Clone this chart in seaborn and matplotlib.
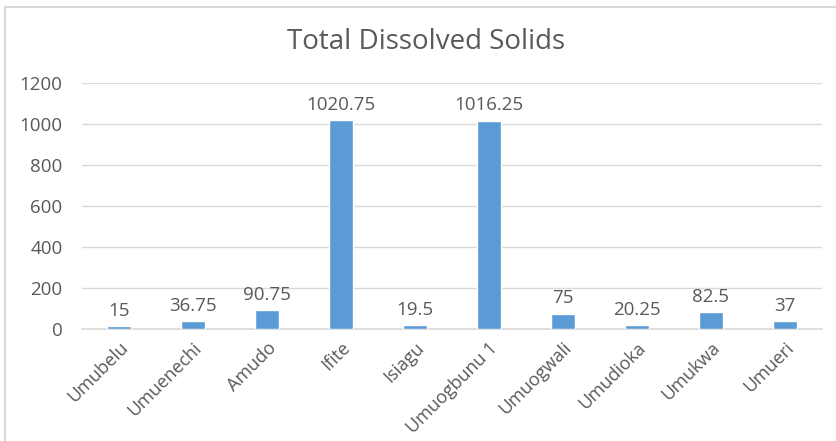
import matplotlib
matplotlib.use("Agg")
import matplotlib.pyplot as plt
import seaborn as sns
import pandas as pd
from matplotlib.patches import Rectangle

# data
sites = ["Umubelu", "Umuenechi", "Amudo", "Ifite", "Isiagu", "Umuogbunu 1",
         "Umuogwali", "Umudioka", "Umukwa", "Umueri"]
tds = [15, 36.75, 90.75, 1020.75, 19.5, 1016.25, 75, 20.25, 82.5, 37]
labels = ["15", "36.75", "90.75", "1020.75", "19.5", "1016.25", "75", "20.25", "82.5", "37"]

df = pd.DataFrame({"site": sites, "tds": tds})

sns.set_style("white")
plt.rcParams["font.family"] = ["Open Sans", "DejaVu Sans"]
txt = "#595959"
grid = "#D9D9D9"

fig = plt.figure(figsize=(8.36, 4.41), dpi=100)
ax = fig.add_axes([0.098, 0.254, 0.885, 0.558])

sns.barplot(data=df, x="site", y="tds", color="#5B9BD5", width=0.32,
            saturation=1, ax=ax, zorder=3)

for i, v in enumerate(tds):
    ax.text(i, v + 30, labels[i], ha="center", va="bottom", fontsize=13.5, color=txt)

ax.set_ylim(0, 1200)
ax.set_xlim(-0.5, len(sites) - 0.5)
ax.set_yticks(range(0, 1201, 200))
ax.yaxis.grid(True, color=grid, linewidth=1, zorder=0)
ax.set_axisbelow(True)
for s in ["top", "right", "left"]:
    ax.spines[s].set_visible(False)
ax.spines["bottom"].set_color(grid)
ax.spines["bottom"].set_linewidth(1.2)
ax.tick_params(axis="y", length=0, labelsize=13.5, colors=txt, pad=14)
ax.tick_params(axis="x", length=0, labelsize=13, colors=txt, pad=7)
ax.set_xticks(range(len(sites)))
ax.set_xticklabels(sites, rotation=45, ha="right", rotation_mode="anchor")
ax.set_xlabel("")
ax.set_ylabel("")

fig.text(0.51, 0.905, "Total Dissolved Solids", ha="center", va="center",
         fontsize=20, color=txt)

fig.patches.append(Rectangle((0.006, -0.01), 1.1, 0.995, transform=fig.transFigure,
                             fill=False, edgecolor=grid, linewidth=1.5))

fig.savefig("out.png", dpi=100)
